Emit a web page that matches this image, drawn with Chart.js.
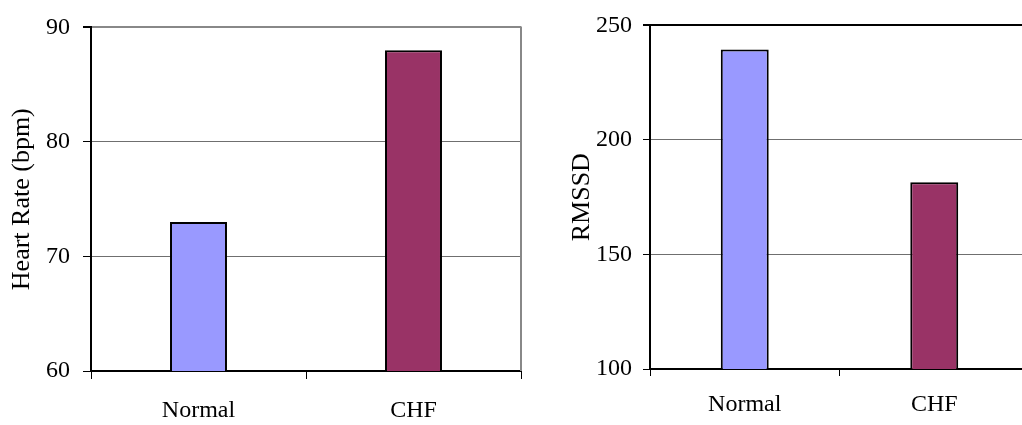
<!DOCTYPE html>
<html>
<head>
<meta charset="utf-8">
<script src="https://cdn.jsdelivr.net/npm/chart.js@4"></script>
<style>
  html, body { margin:0; padding:0; background:#fff; overflow:hidden; }
  body { width:1022px; height:425px; position:relative; }
  .box { position:absolute; top:0; height:425px; }
</style>
</head>
<body>
<div class="box" style="left:0;width:540px"><canvas id="chartHR"></canvas></div>
<div class="box" style="left:560px;width:480px"><canvas id="chartRM"></canvas></div>
<script>
let categories = ['Normal', 'CHF'];
let heartRate  = [73, 88];
let rmssd      = [239.5, 181.5];
let barColors  = ['#9999FF', '#993366'];

let hrRange = [60, 90, 10];
let rmRange = [100, 250, 50];

let serif = "'Times New Roman', 'Liberation Serif', serif";

// draws the right-hand frame line of the plot area
let frameRight = {
    id: 'frameRight',
    afterDatasetsDraw(chart, args, opts) {
        if (!opts.color) return;
        let a = chart.chartArea, c = chart.ctx;
        c.save();
        c.strokeStyle = opts.color;
        c.lineWidth = 2;
        c.beginPath();
        c.moveTo(a.right, a.top - 1);
        c.lineTo(a.right, a.bottom);
        c.stroke();
        c.restore();
    }
};

function drawChart(id, data, range, title, s) {
    let ctx = document.getElementById(id).getContext('2d');
    new Chart(ctx, {
        type: 'bar',
        data: {
            labels: categories,
            datasets: [{
                data: data,
                backgroundColor: barColors,
                borderColor: '#000',
                borderWidth: 2,
                barPercentage: s.barPct,
                categoryPercentage: 1
            }]
        },
        options: {
            responsive: true,
            maintainAspectRatio: false,
            animation: false,
            layout: { padding: { top: s.top, right: s.right, left: 0, bottom: 0 } },
            plugins: {
                legend: { display: false },
                tooltip: { enabled: false },
                frameRight: { color: s.rightColor }
            },
            scales: {
                x: {
                    grid: { drawOnChartArea: false, drawTicks: true, tickLength: s.tick, color: '#000', lineWidth: 1 },
                    border: { color: '#000', width: 2 },
                    ticks: { color: '#000', padding: s.xPad, font: { family: serif, size: 24 } },
                    afterFit: function(sc) { sc.height = s.xH; }
                },
                y: {
                    min: range[0], max: range[1],
                    ticks: { stepSize: range[2], color: '#000', padding: s.yPad, font: { family: serif, size: 24 } },
                    grid: {
                        tickLength: s.tick,
                        tickColor: '#000',
                        color: function(c) {
                            if (c.tick.value === range[1]) return s.topColor;
                            if (c.tick.value === range[0]) return 'rgba(0,0,0,0)';
                            return '#6f6f6f';
                        },
                        lineWidth: function(c) { return c.tick.value === range[1] ? 2 : 1; }
                    },
                    border: { color: '#000', width: 2 },
                    title: { display: true, text: title, color: '#000', padding: { top: s.titlePad, bottom: 0 }, font: { family: serif, size: 26 } },
                    afterFit: function(sc) { sc.width = s.yW; }
                }
            }
        },
        plugins: [frameRight]
    });
}

drawChart('chartHR', heartRate, hrRange, 'Heart Rate (bpm)', {
    barPct: 0.265, top: 21, right: 19, xH: 54, yW: 91, tick: 8, xPad: 17, yPad: 13,
    titlePad: 6.5, topColor: '#888', rightColor: '#888'
});
drawChart('chartRM', rmssd, rmRange, 'RMSSD', {
    barPct: 0.253, top: 23, right: 11, xH: 56, yW: 90, tick: 7, xPad: 14, yPad: 11,
    titlePad: 6.5, topColor: '#000', rightColor: null
});
</script>
</body>
</html>
